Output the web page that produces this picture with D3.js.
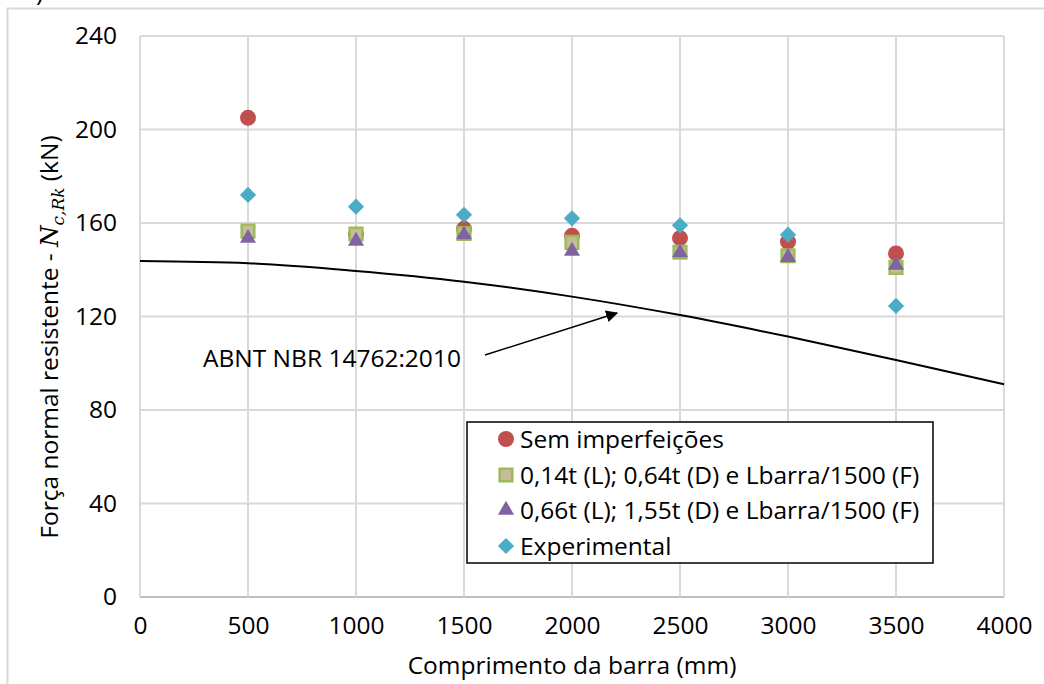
<!DOCTYPE html>
<html>
<head>
<meta charset="utf-8">
<script src="https://cdn.jsdelivr.net/npm/d3@7"></script>
<style>
  body { margin: 0; background: #fff; }
  svg { display: block; font-family: "Open Sans", sans-serif; }
</style>
</head>
<body>
<div id="chart"></div>
<script>
// bar lengths (mm) where the numerical / experimental results were taken
const lengths = [500, 1000, 1500, 2000, 2500, 3000, 3500];
const semImperfeicoes = [205, 155, 157.5, 154.5, 153.5, 152, 147];
const imperf014 = [156.5, 155.3, 155.5, 151.7, 147.5, 146, 141];
const imperf066 = [153.5, 152.3, 155, 148, 147.3, 145.3, 142];
const experimental = [172, 167, 163.5, 162, 159, 155, 124.5];

// design curve from the standard
const abntLengths = [0, 500, 1000, 1500, 2000, 2500, 3000, 3500, 4000];
const abntValues = [143.7, 142.8, 139.5, 134.9, 128.5, 120.6, 111.4, 101.4, 91];

const xTicks = [0, 500, 1000, 1500, 2000, 2500, 3000, 3500, 4000];
const yTicks = [0, 40, 80, 120, 160, 200, 240];

const seriesNames = [
    "Sem imperfeições",
    "0,14t (L); 0,64t (D) e Lbarra/1500 (F)",
    "0,66t (L); 1,55t (D) e Lbarra/1500 (F)",
    "Experimental"
];

const width = 1044, height = 684;
const plot = {left: 140, right: 1004, top: 36, bottom: 597};
const fontSize = 24.5;

const svg = d3.select("#chart")
    .append("svg")
        .attr("width", width)
        .attr("height", height);

// outer chart frame (runs off the right / bottom of the picture)
svg.append("rect")
    .attr("x", 7.5).attr("y", 8.5)
    .attr("width", 1100).attr("height", 700)
    .attr("fill", "none")
    .attr("stroke", "#d9d9d9")
    .attr("stroke-width", 2);

// bit of caption cut off at the top
svg.append("text")
    .attr("x", 36).attr("y", 1)
    .style("font-size", fontSize + "px")
    .text(")");

const x = d3.scaleLinear().domain([0, 4000]).range([plot.left, plot.right]);
const y = d3.scaleLinear().domain([0, 240]).range([plot.bottom, plot.top]);

// gridlines
svg.append("g")
    .selectAll("line")
    .data(yTicks)
    .enter()
        .append("line")
        .attr("x1", plot.left).attr("x2", plot.right)
        .attr("y1", (d) => y(d)).attr("y2", (d) => y(d))
        .attr("stroke", (d) => d === 0 ? "#bfbfbf" : "#d9d9d9")
        .attr("stroke-width", 2);

svg.append("g")
    .selectAll("line")
    .data(xTicks)
    .enter()
        .append("line")
        .attr("x1", (d) => x(d)).attr("x2", (d) => x(d))
        .attr("y1", plot.top).attr("y2", plot.bottom)
        .attr("stroke", "#d9d9d9")
        .attr("stroke-width", 2);

// axes: just labels, Excel style
const yAxis = svg.append("g")
    .attr("transform", `translate(${plot.left},0)`)
    .call(d3.axisLeft(y).tickValues(yTicks).tickFormat(d3.format("d")).tickSize(0).tickPadding(23));
yAxis.select(".domain").remove();
yAxis.selectAll("text")
    .attr("fill", "#000")
    .style("font-family", "Open Sans")
    .style("font-size", fontSize + "px");

const xAxis = svg.append("g")
    .attr("transform", `translate(0,${plot.bottom})`)
    .call(d3.axisBottom(x).tickValues(xTicks).tickFormat(d3.format("d")).tickSize(0).tickPadding(20));
xAxis.select(".domain").remove();
xAxis.selectAll("text")
    .attr("fill", "#000")
    .style("font-family", "Open Sans")
    .style("font-size", fontSize + "px");

// axis titles
svg.append("text")
    .attr("x", 572).attr("y", 674)
    .attr("text-anchor", "middle")
    .style("font-size", fontSize + "px")
    .text("Comprimento da barra (mm)");

const yTitle = svg.append("text")
    .attr("transform", "translate(58,337) rotate(-90)")
    .attr("text-anchor", "middle")
    .style("font-size", fontSize + "px");
yTitle.append("tspan").text("Força normal resistente - ");
yTitle.append("tspan")
    .style("font-family", "DejaVu Serif, serif")
    .style("font-style", "italic")
    .text("N");
yTitle.append("tspan")
    .attr("dy", 6)
    .style("font-family", "DejaVu Serif, serif")
    .style("font-style", "italic")
    .style("font-size", "17px")
    .text("c,Rk");
yTitle.append("tspan")
    .attr("dy", -6)
    .text(" (kN)");

// ABNT curve
const line = d3.line()
    .x((d) => x(d[0]))
    .y((d) => y(d[1]))
    .curve(d3.curveMonotoneX);
svg.append("path")
    .datum(abntLengths.map((l, i) => [l, abntValues[i]]))
    .attr("d", line)
    .attr("fill", "none")
    .attr("stroke", "#000")
    .attr("stroke-width", 2);

// markers
const markerStyles = [
    {type: d3.symbolCircle, size: 201, fill: "#c0504d", stroke: "none", rotate: 0},
    {type: d3.symbolSquare, size: 160, fill: "#c4bd97", stroke: "#9bbb59", rotate: 0},
    {type: d3.symbolTriangle, size: 112, fill: "#8064a2", stroke: "none", rotate: 0},
    {type: d3.symbolSquare, size: 132, fill: "#4bacc6", stroke: "none", rotate: 45}
];
const seriesValues = [semImperfeicoes, imperf014, imperf066, experimental];

function drawMarker(g, style) {
    g.append("path")
        .attr("d", d3.symbol().type(style.type).size(style.size)())
        .attr("transform", `rotate(${style.rotate})`)
        .attr("fill", style.fill)
        .attr("stroke", style.stroke)
        .attr("stroke-width", 2.5);
}

seriesValues.forEach((values, si) => {
    const g = svg.append("g");
    values.forEach((v, i) => {
        const m = g.append("g")
            .attr("transform", `translate(${x(lengths[i])},${y(v)})`);
        drawMarker(m, markerStyles[si]);
    });
});

// annotation for the standard curve
svg.append("text")
    .attr("x", 203).attr("y", 367)
    .style("font-size", fontSize + "px")
    .text("ABNT NBR 14762:2010");

svg.append("defs")
    .append("marker")
        .attr("id", "arrow")
        .attr("viewBox", "0 0 10 10")
        .attr("refX", 9).attr("refY", 5)
        .attr("markerWidth", 12).attr("markerHeight", 12)
        .attr("markerUnits", "userSpaceOnUse")
        .attr("orient", "auto")
    .append("path")
        .attr("d", "M0,0 L10,5 L0,10 z")
        .attr("fill", "#000");
svg.append("line")
    .attr("x1", 485).attr("y1", 355)
    .attr("x2", 617).attr("y2", 313)
    .attr("stroke", "#000")
    .attr("stroke-width", 1.5)
    .attr("marker-end", "url(#arrow)");

// legend
const legend = svg.append("g");
legend.append("rect")
    .attr("x", 467).attr("y", 422)
    .attr("width", 466).attr("height", 141)
    .attr("fill", "#fff")
    .attr("stroke", "#000")
    .attr("stroke-width", 1.5);
const rowY = [439, 475, 510, 546];
seriesNames.forEach((name, i) => {
    const m = legend.append("g")
        .attr("transform", `translate(506,${rowY[i]})`);
    drawMarker(m, markerStyles[i]);
    legend.append("text")
        .attr("x", 520).attr("y", rowY[i] + 8.5)
        .style("font-size", fontSize + "px")
        .text(name);
});
</script>
</body>
</html>
